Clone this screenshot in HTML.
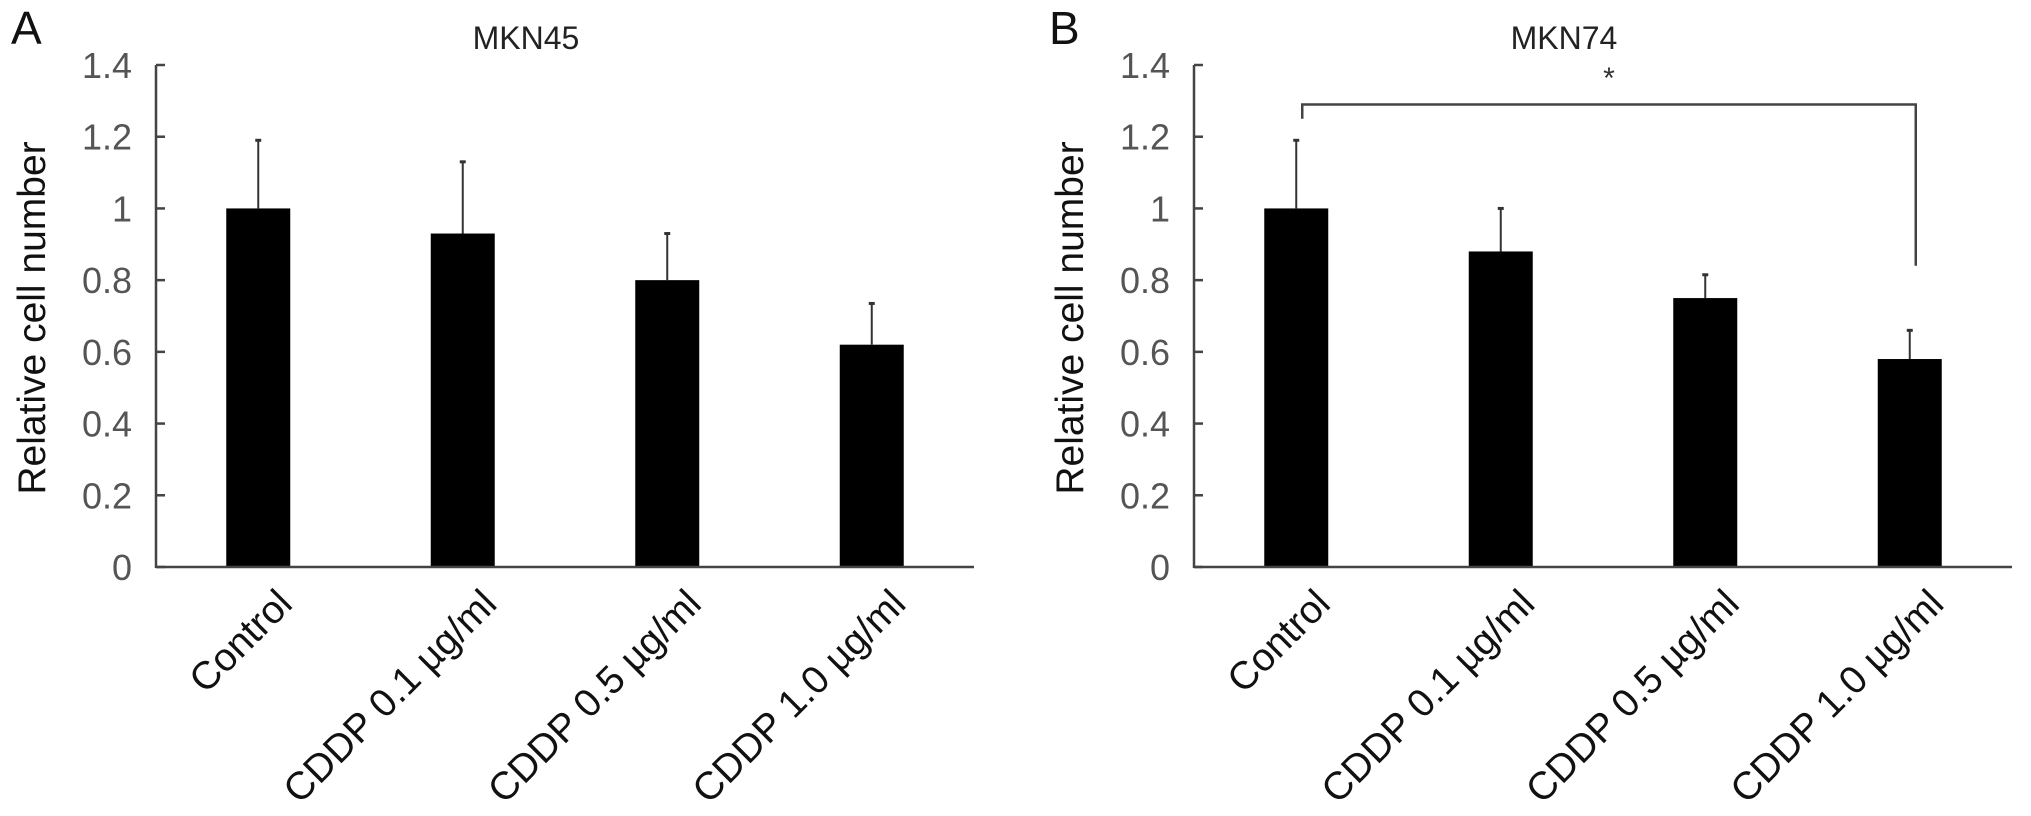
<!DOCTYPE html>
<html><head><meta charset="utf-8"><style>
html,body{margin:0;padding:0;background:#fff;}
svg{display:block;font-family:"Liberation Sans",Arial,sans-serif;}
</style></head><body>
<svg id="chart" width="2031" height="816" viewBox="0 0 2031 816" xmlns="http://www.w3.org/2000/svg"></svg>
<script>
const categories = ["Control", "CDDP 0.1 \u00b5g/ml", "CDDP 0.5 \u00b5g/ml", "CDDP 1.0 \u00b5g/ml"];
const mkn45Values = [1.0, 0.93, 0.80, 0.62];
const mkn45ErrTop = [1.19, 1.13, 0.93, 0.735];
const mkn74Values = [1.0, 0.88, 0.75, 0.58];
const mkn74ErrTop = [1.19, 1.0, 0.815, 0.66];
const yTicks = [0, 0.2, 0.4, 0.6, 0.8, 1, 1.2, 1.4];
const yTickLabels = ["0", "0.2", "0.4", "0.6", "0.8", "1", "1.2", "1.4"];
const sigBracket = {from: 0, to: 3, level: 1.29, rightEnd: 0.84, leftEnd: 1.25};

const NS = "http://www.w3.org/2000/svg";
const svg = document.getElementById("chart");
function mk(tag, attrs, parent, text) {
  const e = document.createElementNS(NS, tag);
  for (const k in attrs) e.setAttribute(k, attrs[k]);
  if (text !== undefined) e.textContent = text;
  (parent || svg).appendChild(e);
  return e;
}

function panel(id, letter, title, x0, values, errTop, bracket) {
  const y0 = 567, yTop = 65, yMax = 1.4, x1 = x0 + 818;
  const band = (x1 - x0) / categories.length;
  const yS = v => y0 - (v / yMax) * (y0 - yTop);
  const xS = i => x0 + band * (i + 0.5);
  const g = mk("g", {}, svg);
  
  

  const L = mk("text", {x: x0 - 145, y: 44, "font-size": 46, fill: "#111"}, g, letter);
  
  
  const T = mk("text", {x: x0 + 370, y: 49, "font-size": 32, fill: "#222", "text-anchor": "middle"}, g, title);
  
  

  const yt = mk("text", {x: 0, y: 0, "font-size": 39, fill: "#111", "text-anchor": "middle",
    transform: `translate(${x0 - 111},318) rotate(-90)`}, g, "Relative cell number");
  
  

  values.forEach((v, i) => {
    const cx = xS(i), w = 64;
    const b = mk("rect", {x: cx - w / 2, y: yS(v), width: w, height: y0 - yS(v), fill: "#000"}, g);
    
    
    const e = mk("line", {x1: cx, x2: cx, y1: yS(v), y2: yS(errTop[i]), stroke: "#333", "stroke-width": 2}, g);
    
    
    const c = mk("line", {x1: cx - 3, x2: cx + 3, y1: yS(errTop[i]), y2: yS(errTop[i]), stroke: "#333", "stroke-width": 3}, g);
    
    
    const lab = mk("text", {x: 0, y: 0, "font-size": 39, fill: "#111", "text-anchor": "end",
      transform: `translate(${cx + 36},606) rotate(-45)`}, g, categories[i]);
    
    
  });

  const ya = mk("line", {x1: x0, x2: x0, y1: yTop, y2: y0 + 1, stroke: "#444", "stroke-width": 2.5}, g);
  
  
  const xa = mk("line", {x1: x0, x2: x1, y1: y0, y2: y0, stroke: "#444", "stroke-width": 2.5}, g);
  
  
  yTicks.forEach((t, i) => {
    const tk = mk("line", {x1: x0, x2: x0 + 9, y1: yS(t), y2: yS(t), stroke: "#444", "stroke-width": 2.5}, g);
    
    
    const tl = mk("text", {x: x0 - 24, y: yS(t) + 13, "font-size": 36, fill: "#555", "text-anchor": "end"}, g, yTickLabels[i]);
    
    
  });

  if (bracket) {
    const xa1 = xS(bracket.from) + 6, xb = xS(bracket.to) + 6;
    const br = mk("path", {d: `M${xa1},${yS(bracket.leftEnd)} V${yS(bracket.level)} H${xb} V${yS(bracket.rightEnd)}`,
      fill: "none", stroke: "#444", "stroke-width": 2.5}, g);
    
    
    const st = mk("text", {x: (xa1 + xb) / 2, y: 88, "font-size": 30, fill: "#333", "text-anchor": "middle"}, g, "*");
    
    
  }
}
panel("mkn45", "A", "MKN45", 156, mkn45Values, mkn45ErrTop, null);
panel("mkn74", "B", "MKN74", 1194, mkn74Values, mkn74ErrTop, sigBracket);
</script>
</body></html>
